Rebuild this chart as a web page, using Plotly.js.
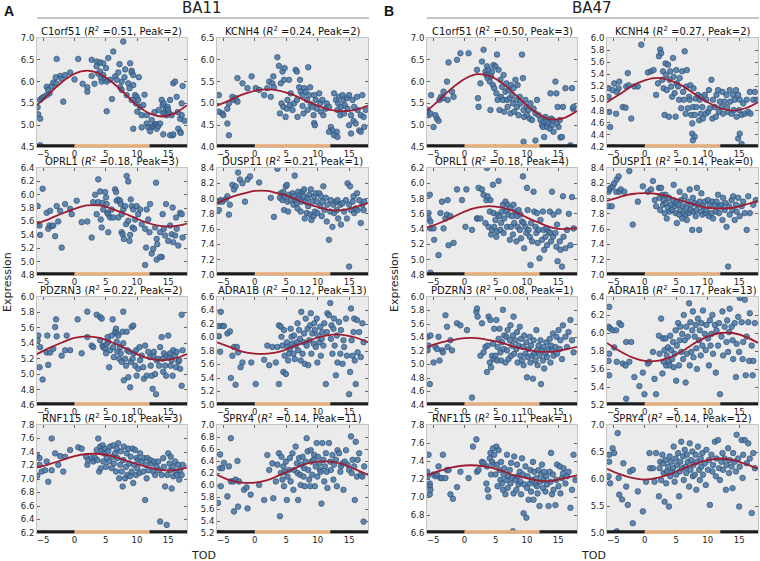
<!DOCTYPE html>
<html><head><meta charset="utf-8">
<script src="https://cdn.plot.ly/plotly-3.0.1.min.js"></script>
<style>html,body{margin:0;padding:0;background:#fff}#chart{width:760px;height:561px}</style>
</head><body><div id="chart"></div>
<script>
// ---------- labels ----------
const genes = ['C1orf51','KCNH4','OPRL1','DUSP11','PDZRN3','ADRA1B','RNF115','SPRY4'];
const r2A = ['0.51','0.24','0.18','0.21','0.22','0.12','0.18','0.14'];
const peakA = [2,2,3,1,2,13,3,11];
const r2B = ['0.50','0.27','0.18','0.14','0.08','0.17','0.11','0.14'];
const peakB = [3,2,4,0,1,13,1,12];
const regions = ['BA11','BA47'];
const panelLetters = ['A','B'];
const xTicks = [-5,0,5,10,15];
const xRange = [-6,18];
const phaseBreaks = [-6,0,12,18];   // dark / light / dark
const yRangeA = [[4.5,7.0],[4.0,6.5],[4.8,6.4],[7.0,8.4],[4.6,6.0],[5.0,6.6],[6.2,7.8],[5.2,7.0]];
const yStepA = [0.5,0.5,0.2,0.2,0.2,0.2,0.2,0.2];
const yRangeB = [[4.5,7.0],[4.2,6.0],[4.8,6.2],[7.0,8.4],[4.4,6.0],[5.2,6.4],[6.6,7.8],[5.0,7.0]];
const yStepB = [0.5,0.2,0.2,0.2,0.2,0.2,0.2,0.5];

// ---------- fitted curves (read at TOD = -6..18 step 2) ----------
const fitT = [-6,-4,-2,0,2,4,6,8,10,12,14,16,18];
const fitA1 = [5.46,5.73,5.99,6.18,6.25,6.18,5.99,5.73,5.46,5.27,5.20,5.27,5.46];
const fitA2 = [4.95,5.07,5.20,5.29,5.32,5.29,5.20,5.07,4.95,4.85,4.82,4.85,4.95];
const fitA3 = [5.57,5.64,5.72,5.79,5.84,5.84,5.79,5.72,5.64,5.57,5.53,5.53,5.57];
const fitA4 = [7.94,8.01,8.06,8.10,8.10,8.06,8.01,7.94,7.89,7.85,7.85,7.89,7.94];
const fitA5 = [5.26,5.34,5.41,5.47,5.49,5.47,5.41,5.34,5.26,5.20,5.18,5.20,5.26];
const fitA6 = [5.93,5.86,5.79,5.76,5.76,5.79,5.86,5.93,6.00,6.04,6.04,6.00,5.93];
const fitA7 = [7.17,7.22,7.28,7.34,7.37,7.37,7.34,7.28,7.22,7.17,7.13,7.13,7.17];
const fitA8 = [6.17,6.08,6.04,6.04,6.08,6.17,6.26,6.35,6.39,6.39,6.35,6.26,6.17];
const fitB1 = [5.33,5.58,5.85,6.06,6.17,6.13,5.97,5.72,5.45,5.24,5.13,5.17,5.33];
const fitB2 = [4.94,5.07,5.21,5.30,5.34,5.30,5.21,5.07,4.94,4.84,4.80,4.84,4.94];
const fitB3 = [5.42,5.48,5.55,5.63,5.68,5.70,5.68,5.63,5.55,5.48,5.42,5.40,5.42];
const fitB4 = [7.97,8.02,8.06,8.07,8.06,8.02,7.97,7.92,7.88,7.87,7.88,7.92,7.97];
const fitB5 = [5.26,5.32,5.36,5.39,5.39,5.36,5.32,5.26,5.22,5.19,5.19,5.22,5.26];
const fitB6 = [5.89,5.80,5.73,5.69,5.69,5.73,5.80,5.89,5.96,6.00,6.00,5.96,5.89];
const fitB7 = [7.24,7.29,7.33,7.35,7.35,7.33,7.29,7.24,7.21,7.18,7.18,7.21,7.24];
const fitB8 = [6.19,6.09,6.02,5.99,6.02,6.09,6.19,6.28,6.35,6.38,6.35,6.28,6.19];

// ---------- samples [TOD, expression] ----------
const ptsA1 = [[-5.9,5.41],[-5.8,5.25],[-5.5,5.58],[-5.25,5.62],[-4.9,5.65],[-4.45,5.69],[-4.0,5.73],[-5.5,5.15],[-4.45,5.88],[-4.2,5.81],[-3.65,5.9],[-3.4,5.98],[-2.85,6.52],[-2.95,5.96],[-2.3,6.13],[-2.05,6.06],[-1.8,5.54],[-1.5,6.15],[-0.7,6.21],[0.6,6.52],[1.3,5.95],[2.05,5.87],[2.05,5.77],[2.75,6.5],[2.75,6.13],[3.55,6.46],[3.55,6.35],[3.8,6.18],[4.1,6.44],[4.1,6.23],[4.25,6.08],[4.35,6.0],[4.6,6.42],[4.6,6.15],[4.9,6.04],[5.05,6.31],[5.15,6.0],[5.4,6.54],[5.15,5.32],[6.2,6.69],[5.7,6.04],[6.5,6.12],[6.75,6.04],[7.0,6.21],[7.3,5.87],[7.55,6.0],[7.8,6.92],[7.55,5.81],[8.1,6.28],[8.35,5.69],[8.6,5.96],[8.8,5.85],[8.9,6.42],[9.15,6.25],[9.15,6.21],[9.15,5.58],[9.4,6.15],[9.4,5.92],[9.7,5.69],[9.85,5.5],[9.95,5.65],[10.2,5.58],[10.05,5.31],[10.5,5.42],[10.75,5.23],[11.0,5.46],[9.4,4.92],[11.55,5.04],[10.75,4.95],[11.8,4.95],[12.35,4.96],[12.6,4.98],[12.9,5.02],[13.15,4.92],[13.15,5.02],[13.4,4.98],[13.7,5.04],[13.95,5.58],[14.1,5.46],[14.2,5.27],[14.3,5.5],[14.5,5.31],[14.65,5.38],[14.75,5.23],[14.9,5.42],[15.0,5.35],[15.2,5.27],[15.3,5.58],[15.55,5.23],[15.7,4.77],[15.8,5.96],[16.1,6.0],[16.35,5.65],[16.6,4.92],[16.9,5.15],[16.9,4.85],[17.15,5.23],[17.3,5.9],[17.15,5.5],[15.3,4.77],[11.55,5.23],[12.35,5.12],[-5.5,4.54],[12.1,4.86],[14.2,4.79],[15.8,4.79],[17.0,4.82],[-3.0,6.1],[0.0,6.05],[3.2,5.95],[6.0,5.6],[7.2,6.4],[8.0,6.1],[10.3,6.1],[11.2,5.7],[12.8,5.3],[13.5,5.35],[16.5,5.3],[17.6,5.1]];
const ptsA2 = [[-5.7,5.19],[-5.7,4.81],[-5.15,4.77],[-5.0,4.73],[-4.35,4.88],[-4.1,5.0],[-4.35,4.54],[-4.1,4.27],[-3.55,5.15],[-3.3,5.08],[-3.05,5.12],[-2.75,5.04],[-2.75,5.58],[-1.95,5.46],[-1.15,5.35],[-0.5,5.62],[0.15,5.35],[0.7,5.31],[1.5,5.19],[2.0,5.35],[2.3,5.5],[2.55,5.15],[2.8,5.46],[3.05,5.37],[2.95,5.62],[3.6,6.06],[3.85,5.86],[4.15,5.46],[4.0,4.77],[4.25,5.0],[4.4,5.73],[4.55,4.92],[4.65,5.54],[4.75,5.81],[4.9,4.69],[5.1,4.88],[5.2,5.08],[5.45,5.54],[5.6,4.96],[5.7,5.23],[6.0,4.85],[6.25,5.0],[6.5,5.77],[6.7,5.73],[6.7,5.08],[6.8,4.69],[7.05,5.37],[7.2,5.54],[7.3,5.27],[7.6,5.19],[7.6,4.94],[7.75,4.77],[7.85,5.35],[8.1,5.27],[8.3,5.08],[8.4,4.85],[8.5,5.83],[8.65,5.19],[8.8,5.37],[8.9,4.98],[9.15,4.92],[9.35,4.73],[9.45,5.19],[9.45,4.55],[9.55,4.5],[9.7,5.08],[9.85,4.88],[10.25,5.23],[10.4,5.0],[10.5,4.81],[10.75,5.08],[10.9,4.73],[11.3,4.88],[11.45,5.0],[11.8,4.92],[12.1,4.46],[12.35,4.38],[12.6,5.23],[12.9,5.08],[13.05,4.35],[13.15,4.85],[13.25,5.0],[13.4,5.15],[13.6,4.73],[13.7,4.92],[13.95,5.19],[14.1,5.08],[14.2,4.77],[14.3,4.96],[14.65,5.12],[14.75,4.88],[15.0,5.19],[15.0,4.5],[15.3,4.73],[15.55,5.08],[15.7,4.6],[15.8,4.92],[16.05,4.54],[16.25,5.15],[16.35,4.85],[16.6,4.38],[16.85,4.73],[17.1,5.19],[17.3,4.69],[17.4,4.46],[17.65,4.85],[12.6,4.27],[11.8,4.35],[13.15,4.23],[15.3,4.31],[16.85,4.35]];
const ptsA3 = [[-5.9,5.83],[-5.95,5.56],[-5.6,5.54],[-5.5,5.4],[-5.1,6.09],[-4.45,5.73],[-4.2,5.49],[-4.0,5.54],[-3.9,5.76],[-3.65,5.53],[-3.4,5.54],[-3.1,5.38],[-2.85,5.83],[-2.6,5.6],[-2.3,5.76],[-2.05,5.21],[-1.5,5.86],[-0.7,5.79],[-0.45,5.71],[0.35,5.91],[1.15,5.59],[2.05,5.6],[2.75,5.36],[3.0,5.89],[3.3,6.0],[3.55,5.71],[3.8,5.89],[3.8,6.23],[4.1,6.05],[4.2,5.63],[4.35,5.51],[4.5,5.88],[4.6,5.78],[4.9,6.04],[5.05,5.96],[5.15,5.86],[5.25,5.73],[5.4,5.71],[5.4,5.44],[5.7,5.66],[5.95,5.78],[6.2,5.66],[6.5,6.08],[6.65,6.04],[6.75,5.91],[7.0,5.93],[7.0,5.66],[7.3,5.91],[7.4,5.86],[7.55,5.71],[7.55,5.44],[7.7,5.41],[7.8,5.78],[7.9,5.34],[8.1,5.83],[8.25,5.56],[8.35,6.28],[8.6,6.2],[8.6,5.61],[8.8,5.31],[8.9,5.4],[9.0,5.93],[9.15,5.83],[9.3,5.51],[9.4,5.78],[9.55,5.49],[9.7,5.63],[9.95,5.83],[10.2,5.71],[10.5,5.78],[10.75,5.56],[11.3,5.49],[11.45,5.21],[11.55,5.78],[11.8,5.63],[12.0,5.44],[12.1,5.86],[12.35,5.12],[12.6,5.19],[12.9,5.51],[13.05,6.18],[13.15,5.34],[13.25,5.26],[13.7,5.44],[13.95,5.07],[14.1,5.71],[14.3,5.49],[14.5,5.39],[14.65,5.86],[15.0,5.31],[15.3,5.54],[15.55,5.41],[15.7,5.81],[15.8,5.29],[16.1,5.39],[16.25,5.66],[16.35,5.49],[16.6,5.24],[16.9,5.73],[17.15,5.71],[17.3,5.36],[11.3,4.95],[13.15,5.03],[13.7,5.07]];
const ptsA4 = [[-5.7,7.96],[-5.7,7.85],[-5.4,7.98],[-5.15,7.96],[-4.6,7.99],[-4.35,8.03],[-3.95,7.92],[-4.1,7.79],[-3.55,8.18],[-3.3,8.12],[-3.05,8.16],[-2.65,8.34],[-2.35,8.25],[-1.95,8.2],[-1.55,7.96],[-1.15,8.25],[-0.75,8.29],[0.7,8.21],[2.55,8.01],[3.05,7.76],[3.6,8.39],[4.0,8.01],[4.15,8.07],[4.4,7.98],[4.55,8.09],[4.65,7.85],[4.75,8.03],[4.95,8.16],[5.1,8.18],[5.2,7.96],[5.3,7.83],[5.45,8.05],[5.7,7.98],[6.0,8.07],[6.15,7.92],[6.25,8.03],[6.35,8.3],[6.5,7.98],[6.7,7.94],[6.8,7.87],[6.9,8.09],[7.05,8.01],[7.2,8.05],[7.3,7.83],[7.4,7.96],[7.6,8.09],[7.75,8.03],[7.85,8.12],[7.95,7.74],[8.1,7.96],[8.25,7.81],[8.4,8.01],[8.5,7.9],[8.65,8.05],[8.8,7.79],[8.9,8.12],[9.0,7.72],[9.15,7.96],[9.35,7.77],[9.45,8.03],[9.55,7.83],[9.7,8.07],[9.85,7.96],[9.95,7.81],[10.25,8.07],[10.4,7.9],[10.5,8.03],[10.65,7.77],[10.75,7.96],[10.9,8.16],[11.05,7.85],[11.3,8.01],[11.45,7.7],[11.55,7.92],[11.8,7.46],[12.0,7.83],[12.1,7.98],[12.35,7.63],[12.5,7.92],[12.6,7.81],[12.9,7.96],[13.05,7.85],[13.15,7.98],[13.25,7.74],[13.6,7.92],[13.7,7.66],[13.95,7.94],[14.2,7.83],[14.5,7.98],[14.65,7.74],[14.75,8.2],[15.0,7.92],[15.15,8.16],[15.3,7.85],[15.55,7.96],[15.7,8.03],[15.8,7.81],[16.05,7.87],[16.25,8.07],[16.35,7.85],[16.6,7.98],[16.85,7.68],[17.1,7.92],[17.3,7.85],[17.4,7.96],[15.0,7.11]];
const ptsA5 = [[-5.8,5.5],[-5.9,5.44],[-5.5,5.35],[-5.6,5.09],[-5.1,4.93],[-4.45,5.28],[-4.35,5.5],[-4.2,5.12],[-3.9,5.28],[-3.4,5.33],[-2.85,5.49],[-3.1,5.61],[-2.95,5.71],[-2.05,5.24],[-1.5,5.31],[-1.25,5.5],[-0.7,5.31],[0.5,5.71],[1.15,5.27],[2.05,5.81],[2.05,5.48],[2.75,5.37],[3.0,5.35],[3.55,5.77],[4.1,5.74],[4.1,5.44],[4.35,5.72],[4.5,5.37],[4.6,5.35],[4.9,5.33],[5.05,5.27],[5.15,5.39],[5.3,5.48],[5.4,5.42],[5.55,5.09],[5.7,5.31],[5.95,5.5],[6.1,5.71],[6.2,5.35],[6.3,5.22],[6.5,5.55],[6.65,5.59],[6.75,5.53],[6.75,5.42],[6.85,5.29],[7.0,5.5],[7.15,5.2],[7.3,5.35],[7.4,5.27],[7.55,5.16],[7.7,5.55],[7.8,5.81],[7.8,5.4],[7.9,4.92],[8.1,5.2],[8.25,5.11],[8.35,5.55],[8.45,5.31],[8.6,4.96],[8.75,5.29],[8.9,4.83],[9.0,5.16],[9.15,5.61],[9.3,5.2],[9.4,5.63],[9.5,5.27],[9.7,5.11],[9.85,5.31],[9.95,4.98],[10.2,5.07],[10.4,5.35],[10.5,5.18],[10.75,5.24],[11.0,5.09],[11.1,4.94],[11.3,5.37],[11.55,4.98],[11.8,5.29],[12.1,5.22],[12.2,5.11],[12.35,4.98],[12.5,4.81],[12.6,5.24],[12.7,5.29],[12.9,5.0],[13.05,4.74],[13.15,5.18],[13.4,5.2],[13.55,5.11],[13.7,5.35],[13.95,5.48],[14.1,5.2],[14.2,5.03],[14.3,5.27],[14.5,5.11],[14.65,4.98],[14.75,5.24],[15.0,5.5],[15.2,5.22],[15.3,5.27],[15.4,5.11],[15.55,5.18],[15.7,4.98],[15.8,5.31],[16.1,5.24],[16.25,5.09],[16.35,5.29],[16.6,5.16],[16.75,5.18],[16.9,5.07],[17.15,4.85],[17.15,5.77],[17.3,5.31]];
const ptsA6 = [[-5.4,6.38],[-5.7,6.17],[-5.15,6.17],[-4.9,6.17],[-5.7,6.02],[-5.5,5.79],[-4.35,6.06],[-3.95,6.09],[-3.55,5.73],[-3.3,5.86],[-2.85,5.86],[-2.65,5.78],[-3.8,5.4],[-3.05,5.3],[-2.25,5.56],[-1.95,5.63],[-0.55,5.63],[0.15,5.31],[1.5,5.67],[2.0,5.88],[2.3,5.59],[2.8,5.86],[3.35,5.63],[3.6,5.86],[3.85,5.31],[3.85,6.18],[4.15,6.16],[4.25,6.01],[4.4,5.88],[4.55,5.49],[4.65,6.11],[4.75,5.73],[4.95,5.46],[5.1,5.93],[5.2,5.86],[5.3,5.66],[5.45,5.76],[5.6,5.83],[5.7,6.13],[5.85,6.01],[6.0,5.91],[6.15,5.76],[6.25,6.03],[6.35,5.68],[6.5,5.88],[6.7,5.93],[6.8,6.21],[6.9,5.81],[7.05,6.11],[7.2,5.98],[7.3,5.66],[7.4,6.38],[7.6,5.76],[7.75,5.93],[7.85,6.06],[7.95,5.61],[8.1,6.28],[8.25,5.88],[8.4,6.13],[8.5,5.59],[8.65,5.96],[8.8,6.18],[8.9,6.36],[9.0,5.76],[9.15,6.06],[9.35,5.91],[9.45,6.21],[9.55,6.11],[9.7,5.86],[9.85,6.28],[9.95,5.63],[10.05,6.03],[10.25,5.93],[10.4,6.16],[10.5,5.73],[10.65,5.98],[10.75,6.08],[10.9,5.88],[11.05,6.21],[11.3,5.31],[11.45,6.08],[11.55,6.36],[11.8,6.33],[12.0,6.51],[12.1,5.98],[12.2,6.18],[12.35,5.76],[12.5,6.13],[12.6,6.28],[12.7,5.88],[12.9,5.44],[13.05,6.03],[13.15,5.63],[13.4,6.23],[13.6,5.76],[13.7,6.11],[13.95,5.61],[14.1,5.96],[14.2,5.86],[14.5,6.28],[14.65,5.73],[15.0,5.16],[15.15,5.49],[15.3,6.43],[15.4,5.96],[15.55,5.73],[15.7,6.08],[15.8,6.28],[15.9,5.66],[16.05,5.31],[16.25,6.26],[16.35,5.78],[16.6,6.08],[16.85,5.71],[17.1,6.21],[17.3,5.93]];
const ptsA7 = [[-5.95,7.34],[-5.95,7.05],[-5.6,7.31],[-5.6,7.21],[-5.25,7.11],[-4.7,7.13],[-4.45,7.26],[-4.2,6.96],[-3.65,7.6],[-3.65,7.13],[-3.1,7.38],[-2.6,7.21],[-2.3,7.34],[-1.8,7.11],[-1.5,7.33],[-0.7,7.43],[0.6,7.47],[1.15,7.45],[1.85,7.33],[2.05,7.21],[2.2,7.28],[2.75,7.31],[3.0,7.26],[3.3,7.31],[3.55,7.43],[3.65,7.28],[3.8,7.6],[3.95,7.11],[4.1,7.48],[4.2,7.16],[4.35,7.41],[4.5,7.5],[4.6,7.26],[4.7,7.38],[4.9,7.45],[5.05,7.18],[5.15,7.31],[5.4,7.41],[5.55,7.26],[5.7,7.48],[5.95,7.16],[6.1,7.33],[6.2,7.5],[6.3,7.23],[6.5,7.38],[6.65,7.11],[6.75,7.45],[6.85,7.31],[7.0,7.53],[7.15,7.01],[7.3,7.21],[7.4,7.41],[7.55,7.11],[7.7,6.89],[7.8,7.28],[7.9,7.48],[8.1,7.01],[8.25,7.18],[8.35,7.38],[8.45,7.06],[8.6,7.45],[8.75,7.23],[8.9,7.04],[9.0,7.33],[9.15,7.11],[9.3,7.45],[9.4,6.94],[9.5,7.21],[9.7,7.43],[9.85,7.06],[9.95,7.31],[10.05,7.16],[10.2,7.28],[10.4,7.09],[10.5,7.38],[10.75,7.26],[11.0,7.11],[11.1,7.31],[11.3,6.69],[11.45,7.21],[11.55,7.01],[11.65,7.31],[11.8,7.13],[12.1,7.28],[12.35,7.23],[12.6,7.11],[12.7,7.26],[12.9,7.06],[13.15,7.18],[13.4,7.26],[13.55,7.13],[13.7,6.37],[13.95,7.06],[14.2,7.31],[14.3,7.18],[14.5,6.89],[14.75,6.32],[14.85,7.06],[15.0,7.38],[15.2,7.23],[15.3,7.13],[15.4,7.33],[15.55,6.86],[15.7,7.18],[15.8,7.04],[16.1,7.26],[16.25,7.11],[16.35,7.06],[16.6,7.21],[16.75,6.99],[16.9,7.13],[17.15,7.06],[17.3,7.21]];
const ptsA8 = [[-5.7,5.2],[-5.85,5.7],[-5.5,6.51],[-5.5,6.28],[-5.15,6.28],[-5.4,5.98],[-4.9,6.37],[-4.35,5.81],[-4.1,6.31],[-3.8,6.78],[-3.8,6.06],[-3.4,6.06],[-3.3,5.56],[-3.05,6.09],[-2.75,6.4],[-2.65,5.64],[-2.5,6.06],[-1.7,5.92],[-1.3,5.96],[-1.15,5.61],[-0.65,5.84],[0.7,6.0],[1.5,5.75],[2.0,6.5],[2.3,6.25],[2.8,6.36],[2.95,5.78],[3.35,6.06],[3.6,6.34],[3.85,6.53],[4.0,5.48],[4.15,6.2],[4.25,6.47],[4.4,6.09],[4.55,6.31],[4.65,5.98],[4.75,6.22],[4.95,6.39],[5.1,5.75],[5.2,6.14],[5.45,6.25],[5.6,6.45],[5.7,6.06],[6.0,6.53],[6.15,5.92],[6.25,6.25],[6.5,6.64],[6.7,6.36],[6.8,6.2],[6.9,5.75],[7.05,6.45],[7.2,6.17],[7.3,6.0],[7.4,6.34],[7.6,6.47],[7.75,6.14],[7.85,6.28],[7.95,5.98],[8.1,6.39],[8.25,6.78],[8.4,6.56],[8.5,6.25],[8.65,6.09],[8.8,5.98],[8.9,6.58],[9.0,6.39],[9.15,6.17],[9.35,6.42],[9.45,6.5],[9.55,5.98],[9.7,6.31],[9.85,6.7],[9.95,6.14],[10.05,6.47],[10.25,6.36],[10.4,6.25],[10.5,6.22],[10.6,5.69],[10.75,6.7],[10.9,6.42],[11.05,6.06],[11.15,6.31],[11.3,6.53],[11.45,6.22],[11.55,5.95],[11.8,6.7],[12.0,6.39],[12.1,6.25],[12.35,6.5],[12.5,6.09],[12.6,6.34],[12.9,6.42],[13.05,5.98],[13.15,6.58],[13.4,6.53],[13.6,6.22],[13.7,6.31],[13.95,6.36],[14.1,5.92],[14.3,6.39],[14.5,6.58],[14.75,6.34],[15.0,6.25],[15.3,6.81],[15.4,6.2],[15.55,6.42],[15.8,6.31],[15.9,5.75],[16.05,6.72],[16.25,6.14],[16.35,6.42],[16.6,6.53],[16.85,6.17],[17.1,6.14],[17.3,5.39],[17.4,6.31]];
const ptsB1 = [[-5.9,5.35],[-5.75,5.23],[-5.45,5.27],[-5.35,5.69],[-4.95,4.96],[-4.65,5.23],[-4.4,5.15],[-4.15,5.1],[-4.0,5.58],[-3.75,5.65],[-3.45,5.62],[-3.35,5.77],[-2.8,6.0],[-2.7,5.58],[-2.55,6.44],[-2.0,5.77],[-1.75,5.65],[-1.2,6.5],[-0.65,6.65],[0.65,6.65],[2.0,6.27],[2.15,5.62],[2.25,5.42],[2.55,5.96],[2.8,6.46],[3.05,6.73],[3.35,6.23],[3.5,6.15],[3.6,6.35],[3.7,6.08],[3.85,6.27],[4.05,6.0],[4.15,5.35],[4.25,6.12],[4.4,6.23],[4.55,5.92],[4.65,6.38],[4.75,5.85],[4.95,6.35],[5.1,5.73],[5.2,6.62],[5.3,5.58],[5.45,6.27],[5.6,5.35],[5.75,6.04],[5.85,5.65],[6.0,5.88],[6.15,5.58],[6.25,6.15],[6.35,5.31],[6.55,5.77],[6.7,5.96],[6.8,5.58],[6.9,5.42],[7.05,5.81],[7.25,5.62],[7.35,5.27],[7.45,5.92],[7.6,5.69],[7.75,5.5],[7.85,5.85],[7.95,5.31],[8.15,6.04],[8.3,5.58],[8.4,5.42],[8.5,5.92],[8.65,5.23],[8.85,5.65],[8.95,5.5],[9.2,6.62],[9.35,6.08],[9.45,5.35],[9.55,5.19],[9.75,5.58],[9.9,5.42],[10.0,5.23],[10.25,5.35],[10.45,5.15],[10.55,5.5],[10.8,5.12],[11.05,5.38],[11.35,5.27],[11.6,5.58],[11.85,5.23],[12.15,5.12],[12.4,5.0],[12.55,4.96],[12.65,5.08],[12.75,4.73],[12.95,5.19],[13.1,5.08],[13.2,4.96],[13.45,5.04],[13.65,4.92],[13.75,5.73],[13.85,5.15],[14.0,5.0],[14.15,5.12],[14.25,4.85],[14.55,6.0],[14.7,5.73],[14.8,5.04],[14.9,5.42],[15.05,4.96],[15.25,5.12],[15.35,4.72],[15.6,4.73],[15.75,5.42],[16.15,5.85],[17.2,5.85],[17.35,5.38],[17.45,5.42],[9.45,4.62],[11.35,4.65],[16.95,4.54]];
const ptsB2 = [[-5.75,5.17],[-5.75,5.03],[-5.65,4.78],[-5.5,4.53],[-5.1,5.14],[-4.85,5.25],[-4.55,4.75],[-4.45,5.11],[-4.15,5.17],[-4.05,5.28],[-3.5,4.86],[-3.05,4.85],[-2.95,5.2],[-2.7,5.42],[-2.55,5.22],[-2.15,4.67],[-1.65,5.2],[-1.1,5.2],[-0.55,5.89],[0.5,5.43],[1.0,5.45],[1.4,5.47],[1.8,5.06],[2.1,5.25],[2.25,5.7],[2.45,5.81],[2.6,5.75],[2.8,5.31],[2.9,5.45],[3.0,5.17],[3.15,4.73],[3.3,5.58],[3.4,5.39],[3.5,5.14],[3.7,5.56],[3.85,4.7],[3.95,5.31],[4.05,5.45],[4.2,5.2],[4.35,5.03],[4.5,5.67],[4.6,5.36],[4.75,5.09],[4.9,4.7],[5.0,5.47],[5.1,5.25],[5.3,5.2],[5.45,4.98],[5.55,5.34],[5.8,4.84],[5.95,5.45],[6.1,5.11],[6.2,4.98],[6.35,5.78],[6.5,4.75],[6.6,5.2],[6.7,5.47],[6.85,4.84],[7.05,5.03],[7.15,4.98],[7.25,5.22],[7.4,4.73],[7.55,4.59],[7.65,4.86],[7.75,5.17],[7.95,4.73],[8.1,5.0],[8.2,4.86],[8.45,5.06],[8.65,4.64],[8.75,4.98],[8.9,4.75],[9.0,5.03],[9.15,4.86],[9.25,4.67],[9.55,5.06],[9.7,4.75],[9.8,4.98],[10.05,4.78],[10.2,5.14],[10.35,4.84],[10.6,5.31],[10.75,4.67],[10.85,4.98],[11.15,4.86],[11.3,4.7],[11.4,5.06],[11.65,5.14],[11.8,4.78],[11.95,4.95],[12.2,4.86],[12.35,5.11],[12.45,4.75],[12.7,4.95],[13.0,5.06],[13.1,4.86],[13.25,4.78],[13.5,5.14],[13.6,4.95],[13.8,4.75],[14.05,5.06],[14.15,4.81],[14.3,4.98],[14.5,5.14],[14.6,4.7],[14.85,5.06],[15.0,4.81],[15.1,4.98],[15.4,4.73],[15.65,4.92],[15.9,4.75],[16.2,4.98],[16.45,4.78],[16.7,5.11],[16.8,4.75],[17.25,4.98],[17.5,5.11],[17.8,4.98],[7.55,4.42],[7.95,4.37],[14.85,4.34],[15.1,4.42],[7.65,4.31],[15.4,4.25]];
const ptsB3 = [[-5.75,5.61],[-5.75,5.54],[-5.55,5.85],[-5.45,5.5],[-5.45,5.41],[-4.95,5.41],[-4.85,5.26],[-4.15,5.06],[-3.85,5.61],[-3.6,5.76],[-3.35,5.41],[-3.05,5.54],[-2.8,5.59],[-2.7,5.78],[-2.55,5.19],[-2.25,5.57],[-1.75,5.22],[-1.2,5.92],[-0.4,5.78],[0.15,5.43],[0.3,5.92],[1.2,5.39],[2.0,5.54],[2.1,5.54],[2.25,5.94],[2.55,5.54],[2.8,5.92],[3.05,5.85],[3.35,5.48],[3.5,5.78],[3.6,6.2],[3.7,5.83],[3.85,5.43],[4.05,5.63],[4.15,5.78],[4.25,5.33],[4.4,5.39],[4.55,5.98],[4.65,5.61],[4.75,5.43],[4.95,5.52],[5.1,5.3],[5.2,5.37],[5.3,5.59],[5.45,6.03],[5.6,5.57],[5.75,5.39],[5.85,5.48],[6.0,5.63],[6.15,5.72],[6.25,5.35],[6.35,5.54],[6.55,5.76],[6.7,5.63],[6.8,5.43],[6.9,5.72],[7.05,5.59],[7.25,5.26],[7.35,5.68],[7.45,5.43],[7.6,5.57],[7.75,5.33],[7.85,5.72],[7.95,5.48],[8.15,5.63],[8.3,5.24],[8.4,5.57],[8.5,5.43],[8.65,5.65],[8.85,5.39],[8.95,5.59],[9.05,5.28],[9.2,5.5],[9.35,6.09],[9.45,5.48],[9.55,5.15],[9.75,5.43],[9.9,5.35],[10.0,5.94],[10.1,5.65],[10.25,5.39],[10.45,5.3],[10.55,4.93],[10.65,5.48],[10.8,5.24],[11.05,5.89],[11.15,5.63],[11.35,5.43],[11.5,5.35],[11.6,5.61],[11.7,5.22],[11.85,5.39],[12.0,5.02],[12.15,5.52],[12.4,5.26],[12.55,5.63],[12.65,5.39],[12.75,5.13],[12.95,5.3],[13.1,5.41],[13.2,5.19],[13.45,5.37],[13.65,5.63],[13.75,5.35],[13.85,5.24],[14.0,5.89],[14.15,5.3],[14.25,5.59],[14.55,5.35],[14.7,5.17],[14.8,5.46],[14.9,4.98],[15.05,5.63],[15.25,5.24],[15.35,5.13],[15.6,4.91],[15.75,5.83],[15.85,5.3],[16.15,5.15],[16.4,5.39],[16.95,5.19],[17.45,5.41],[-5.45,4.83],[17.2,5.82],[16.7,5.6]];
const ptsB4 = [[-5.75,8.09],[-5.75,7.9],[-5.65,8.12],[-5.4,8.14],[-5.25,7.9],[-5.1,8.16],[-4.85,8.2],[-4.55,8.09],[-4.45,8.25],[-4.15,8.29],[-4.05,8.09],[-3.8,8.12],[-3.25,8.09],[-2.45,8.36],[-1.9,7.66],[-1.1,7.96],[-0.3,8.16],[0.5,8.09],[1.0,8.12],[1.3,8.23],[1.6,7.98],[1.8,7.9],[2.25,8.14],[2.35,8.01],[2.45,7.85],[2.6,8.14],[2.8,8.05],[2.9,7.92],[3.0,7.98],[3.15,7.81],[3.3,8.05],[3.4,7.94],[3.5,7.74],[3.7,7.88],[3.85,8.01],[3.95,7.83],[4.2,7.92],[4.35,7.85],[4.5,7.98],[4.6,8.18],[4.75,7.9],[4.9,7.81],[5.0,7.94],[5.1,7.68],[5.3,7.92],[5.45,7.79],[5.55,8.09],[5.65,7.85],[5.8,7.98],[5.95,7.74],[6.1,7.9],[6.2,7.81],[6.35,8.03],[6.5,7.79],[6.6,7.88],[6.7,7.72],[6.85,7.96],[7.05,7.81],[7.15,8.12],[7.25,7.85],[7.4,7.92],[7.55,7.59],[7.65,8.01],[7.75,7.83],[7.95,7.94],[8.1,7.77],[8.2,7.85],[8.3,8.14],[8.45,7.92],[8.65,7.59],[8.75,7.96],[8.9,7.83],[9.0,8.07],[9.15,7.79],[9.25,7.9],[9.55,7.96],[9.7,7.81],[9.8,7.85],[10.05,7.98],[10.2,7.77],[10.35,7.92],[10.6,7.81],[10.75,7.96],[10.85,7.74],[11.15,7.92],[11.3,7.83],[11.4,7.96],[11.65,8.05],[11.8,7.81],[11.95,7.9],[12.2,7.92],[12.35,7.72],[12.45,8.01],[12.7,7.85],[12.85,7.94],[13.0,7.63],[13.25,7.11],[13.4,7.9],[13.5,7.79],[13.8,7.98],[13.95,7.85],[14.05,8.03],[14.3,7.72],[14.5,7.92],[14.6,7.83],[14.85,8.01],[15.1,7.77],[15.4,7.9],[15.65,7.96],[15.9,7.81],[16.2,7.59],[16.45,8.03],[16.7,7.81],[17.25,7.92],[17.65,7.98]];
const ptsB5 = [[-5.9,5.41],[-5.9,5.21],[-5.75,5.28],[-5.45,5.43],[-5.55,4.71],[-4.95,5.03],[-4.65,5.26],[-4.4,5.23],[-4.15,5.41],[-4.0,5.06],[-3.6,5.21],[-3.45,5.18],[-3.05,5.73],[-2.8,5.56],[-2.7,5.26],[-2.25,5.36],[-2.0,5.21],[-1.2,5.61],[-0.65,5.58],[0.4,5.51],[1.2,4.51],[1.9,5.78],[2.0,5.83],[2.1,5.71],[2.55,5.13],[2.8,5.61],[3.05,5.18],[3.35,5.26],[3.6,4.89],[3.7,5.28],[3.85,5.71],[4.05,5.03],[4.15,5.66],[4.25,4.96],[4.4,5.13],[4.55,5.31],[4.65,5.08],[4.75,5.53],[4.95,5.13],[5.1,5.66],[5.2,5.06],[5.3,5.26],[5.45,5.38],[5.6,5.53],[5.75,5.18],[5.85,5.06],[6.0,5.33],[6.15,5.81],[6.25,5.23],[6.35,5.43],[6.55,5.03],[6.7,5.41],[6.8,5.21],[6.9,5.51],[7.05,5.08],[7.25,5.36],[7.35,5.58],[7.45,5.13],[7.6,5.28],[7.75,5.43],[7.85,5.71],[7.95,5.16],[8.15,5.36],[8.3,5.23],[8.4,5.48],[8.5,5.03],[8.65,5.28],[8.85,5.56],[8.95,5.13],[9.05,5.38],[9.2,5.06],[9.35,5.26],[9.45,4.99],[9.55,5.43],[9.75,5.16],[9.9,5.33],[10.0,4.81],[10.1,5.11],[10.25,5.23],[10.45,5.41],[10.55,5.03],[10.65,5.28],[10.8,5.13],[10.95,4.79],[11.05,5.36],[11.15,5.16],[11.35,5.06],[11.5,5.51],[11.6,5.21],[11.7,4.99],[11.85,5.28],[12.0,5.13],[12.15,5.36],[12.25,4.71],[12.4,5.21],[12.55,5.06],[12.65,5.26],[12.75,4.94],[12.95,5.16],[13.1,5.33],[13.2,5.11],[13.45,5.23],[13.65,5.38],[13.75,5.03],[13.85,5.28],[14.0,5.21],[14.15,5.46],[14.25,5.13],[14.55,5.26],[14.7,5.41],[14.8,5.16],[15.05,5.51],[15.25,5.23],[15.35,5.36],[15.6,5.08],[15.75,5.58],[16.15,5.41],[16.4,5.26],[16.65,5.48],[16.95,5.66],[17.2,5.36],[17.45,5.18]];
const ptsB6 = [[-5.75,6.07],[-5.65,6.29],[-5.5,6.05],[-5.65,5.77],[-5.75,5.69],[-5.65,5.53],[-5.1,6.03],[-4.55,6.03],[-4.85,5.84],[-4.45,5.68],[-4.05,6.11],[-3.75,6.09],[-3.5,5.66],[-3.05,5.64],[-2.95,5.9],[-2.45,5.68],[-2.15,5.9],[-2.95,5.27],[-1.65,5.51],[-0.85,5.41],[-0.3,5.56],[-0.05,5.32],[0.5,5.66],[0.75,5.68],[1.3,5.79],[1.55,5.49],[1.8,5.32],[2.25,5.97],[2.35,5.77],[2.6,6.16],[2.8,5.55],[2.9,5.94],[3.0,5.68],[3.15,5.81],[3.3,5.94],[3.4,5.64],[3.5,5.75],[3.7,5.84],[3.85,5.68],[3.95,5.64],[4.05,5.97],[4.2,5.81],[4.35,5.71],[4.5,5.9],[4.6,5.62],[4.75,5.77],[4.9,6.03],[5.0,5.47],[5.1,5.86],[5.3,6.11],[5.45,5.64],[5.55,5.92],[5.65,6.07],[5.8,5.79],[5.95,5.99],[6.1,5.71],[6.2,6.2],[6.35,5.92],[6.5,5.45],[6.6,6.07],[6.7,5.77],[6.85,5.96],[7.05,6.33],[7.15,5.64],[7.25,6.12],[7.4,5.79],[7.55,6.03],[7.65,6.24],[7.75,5.73],[7.95,5.96],[8.1,6.09],[8.2,5.83],[8.3,5.6],[8.45,6.16],[8.65,5.92],[8.75,6.03],[8.9,5.75],[9.0,6.11],[9.15,5.86],[9.25,6.25],[9.55,5.99],[9.7,5.81],[9.8,6.09],[10.05,5.94],[10.2,5.64],[10.35,6.14],[10.45,5.86],[10.6,5.99],[10.75,6.2],[10.85,5.77],[11.15,6.09],[11.3,5.56],[11.4,6.03],[11.65,5.86],[11.8,6.11],[11.95,5.32],[12.2,5.96],[12.35,6.24],[12.45,5.75],[12.7,6.07],[13.0,5.9],[13.1,6.14],[13.25,5.79],[13.4,6.01],[13.5,6.27],[13.8,6.07],[13.95,5.92],[14.05,5.71],[14.3,6.11],[14.5,5.51],[14.6,5.88],[14.85,6.18],[15.0,5.79],[15.1,6.39],[15.4,6.12],[15.55,5.71],[15.65,5.9],[15.9,6.37],[16.05,5.53],[16.2,5.96],[16.45,6.12],[16.6,5.69],[16.7,6.22],[17.0,5.86],[17.15,5.53],[17.25,5.69],[17.5,6.11]];
const ptsB7 = [[-5.97,7.28],[-5.9,7.23],[-5.75,7.47],[-5.55,7.15],[-5.55,7.12],[-5.55,7.03],[-5.45,7.08],[-4.95,7.25],[-4.65,7.23],[-4.4,7.25],[-4.15,7.34],[-3.85,7.21],[-3.6,7.21],[-3.45,7.47],[-3.05,7.21],[-2.8,7.3],[-2.55,7.3],[-2.25,7.03],[-1.85,6.98],[-1.2,7.11],[-0.65,7.28],[0.65,7.21],[1.35,7.56],[1.9,7.64],[2.0,7.28],[2.25,7.3],[2.8,7.39],[3.05,7.38],[3.5,7.15],[3.6,7.34],[3.7,7.08],[3.85,7.0],[4.05,7.43],[4.15,7.49],[4.25,7.25],[4.4,7.39],[4.55,7.54],[4.65,7.36],[4.75,7.47],[4.95,7.25],[5.1,7.56],[5.2,7.36],[5.3,7.12],[5.45,7.52],[5.6,7.3],[5.75,7.19],[5.85,7.39],[6.0,7.15],[6.15,7.08],[6.25,7.25],[6.35,7.32],[6.55,7.03],[6.7,7.19],[6.8,7.47],[6.9,7.1],[7.05,7.23],[7.25,7.3],[7.35,7.15],[7.45,7.38],[7.6,7.21],[7.75,6.62],[7.85,7.04],[7.95,7.45],[8.15,7.19],[8.3,7.08],[8.4,7.36],[8.5,7.23],[8.65,7.14],[8.85,7.28],[8.95,7.17],[9.05,7.03],[9.2,7.43],[9.35,7.25],[9.45,6.82],[9.55,7.14],[9.75,7.34],[9.9,6.77],[10.0,7.1],[10.1,7.23],[10.25,6.97],[10.45,7.15],[10.55,7.3],[10.65,7.06],[10.8,7.19],[10.95,7.39],[11.05,6.97],[11.15,7.28],[11.35,7.14],[11.5,7.21],[11.6,7.12],[11.7,7.04],[11.85,7.3],[12.0,6.9],[12.15,7.17],[12.25,7.25],[12.4,7.36],[12.55,7.1],[12.65,7.19],[12.75,7.28],[12.95,7.06],[13.1,7.23],[13.2,7.14],[13.45,6.9],[13.65,7.28],[13.75,7.17],[13.85,7.49],[14.0,7.03],[14.15,7.25],[14.25,7.08],[14.55,6.91],[14.7,7.19],[14.8,7.36],[15.05,7.12],[15.25,7.34],[15.35,7.04],[15.6,7.21],[15.75,7.26],[15.85,7.32],[16.15,7.15],[16.4,7.23],[16.65,7.28],[16.95,6.88],[17.2,7.08],[17.45,7.47],[17.75,7.19]];
const ptsB8 = [[-5.75,6.05],[-5.65,6.45],[-5.65,6.32],[-5.5,5.92],[-5.1,6.57],[-4.85,6.48],[-4.45,5.03],[-4.3,6.85],[-4.15,6.02],[-4.05,5.71],[-3.6,5.62],[-3.4,6.29],[-2.95,5.86],[-2.7,5.52],[-2.35,6.14],[-1.9,6.17],[-1.9,5.18],[-1.1,5.77],[-0.3,5.4],[0.2,5.95],[0.75,6.48],[0.85,6.2],[1.3,6.2],[1.55,5.95],[1.8,6.48],[2.25,5.68],[2.35,6.2],[2.45,6.32],[2.6,5.98],[2.8,6.45],[2.9,6.29],[3.0,6.11],[3.15,5.58],[3.3,6.35],[3.4,5.92],[3.5,6.14],[3.7,6.23],[3.85,5.49],[3.95,6.42],[4.05,6.05],[4.2,6.32],[4.35,6.14],[4.5,6.2],[4.6,6.6],[4.75,5.95],[4.9,6.38],[5.0,6.08],[5.1,6.26],[5.3,6.48],[5.45,5.68],[5.55,6.14],[5.65,6.32],[5.8,6.69],[5.95,6.2],[6.1,6.42],[6.2,5.98],[6.35,6.54],[6.5,6.23],[6.6,6.11],[6.7,6.45],[6.85,6.32],[7.05,5.86],[7.15,6.66],[7.25,6.17],[7.4,6.35],[7.55,6.51],[7.65,6.05],[7.75,6.26],[7.95,6.08],[8.1,6.45],[8.2,5.8],[8.3,6.32],[8.45,6.6],[8.65,6.17],[8.75,5.98],[8.9,6.38],[9.0,6.23],[9.15,6.48],[9.25,6.08],[9.55,6.29],[9.7,5.89],[9.8,6.54],[10.05,6.17],[10.2,6.35],[10.35,5.52],[10.6,6.45],[10.75,6.14],[10.85,6.26],[11.15,6.69],[11.3,6.05],[11.4,6.38],[11.65,6.72],[11.8,6.2],[11.95,5.98],[12.2,6.32],[12.35,6.48],[12.45,6.17],[12.7,6.38],[12.9,5.8],[13.0,6.26],[13.25,6.57],[13.4,6.11],[13.5,6.35],[13.8,6.23],[13.95,5.83],[14.05,6.48],[14.3,6.32],[14.5,6.14],[14.6,6.82],[14.85,6.38],[15.0,5.49],[15.1,6.23],[15.4,6.72],[15.55,6.02],[15.65,6.45],[15.9,6.72],[16.2,6.29],[16.45,6.66],[16.7,6.38],[17.0,5.37],[17.25,6.48],[17.5,6.2]];

// ---------- assemble ----------
const ptsA = [ptsA1,ptsA2,ptsA3,ptsA4,ptsA5,ptsA6,ptsA7,ptsA8];
const ptsB = [ptsB1,ptsB2,ptsB3,ptsB4,ptsB5,ptsB6,ptsB7,ptsB8];
const fitsA = [fitA1,fitA2,fitA3,fitA4,fitA5,fitA6,fitA7,fitA8];
const fitsB = [fitB1,fitB2,fitB3,fitB4,fitB5,fitB6,fitB7,fitB8];

const W = 760, H = 561;
const colPx = [[37,187],[217,368],[427,577],[607,758]];
const rowPx = [[38,147],[168,275],[297,405],[425,533]];
const px2x = p => p / W;
const px2y = p => 1 - p / H;

const FONT = 'DejaVu Sans, Verdana, sans-serif';
const traces = [];
const layout = {
  width: W, height: H,
  margin: {l:0, r:0, t:0, b:0},
  paper_bgcolor: '#ffffff',
  plot_bgcolor: '#ebebeb',
  showlegend: false,
  font: {family: FONT, size: 9, color: '#222'},
  annotations: [],
  shapes: []
};

function ticksFor(range, step) {
  const out = [];
  const n = Math.round((range[1] - range[0]) / step);
  for (let k = 0; k <= n; k++) out.push(+(range[0] + k * step).toFixed(2));
  return out;
}

let idx = 0;
for (let p = 0; p < 2; p++) {
  const pts = p === 0 ? ptsA : ptsB;
  const fits = p === 0 ? fitsA : fitsB;
  const r2 = p === 0 ? r2A : r2B;
  const peak = p === 0 ? peakA : peakB;
  const yR = p === 0 ? yRangeA : yRangeB;
  const yS = p === 0 ? yStepA : yStepB;
  for (let g = 0; g < 8; g++) {
    idx++;
    const row = Math.floor(g / 2), col = g % 2;
    const cx = colPx[p * 2 + col], ry = rowPx[row];
    const xa = idx === 1 ? 'x' : 'x' + idx;
    const ya = idx === 1 ? 'y' : 'y' + idx;
    const xk = idx === 1 ? 'xaxis' : 'xaxis' + idx;
    const yk = idx === 1 ? 'yaxis' : 'yaxis' + idx;
    layout[xk] = {
      domain: [px2x(cx[0]), px2x(cx[1])], anchor: ya, range: xRange,
      tickvals: xTicks, ticks: 'inside', ticklen: 3, tickcolor: '#666',
      ticklabelstandoff: -1,
      showline: true, linecolor: '#c4c4c4', linewidth: 1, mirror: 'ticks',
      showgrid: false, zeroline: false, tickfont: {size: 8.5, color: '#222'},
      fixedrange: true
    };
    layout[yk] = {
      domain: [px2y(ry[1]), px2y(ry[0])], anchor: xa, range: yR[g],
      tickvals: ticksFor(yR[g], yS[g]), tickformat: '.1f',
      ticks: 'inside', ticklen: 3, tickcolor: '#666',
      showline: true, linecolor: '#c4c4c4', linewidth: 1, mirror: 'ticks',
      showgrid: false, zeroline: false, tickfont: {size: 8.5, color: '#222'},
      fixedrange: true
    };
    traces.push({
      type: 'scatter', mode: 'markers', xaxis: xa, yaxis: ya,
      x: pts[g].map(d => d[0]), y: pts[g].map(d => d[1]),
      marker: {size: 5.6, color: 'rgba(74,121,168,0.88)', line: {color: '#2a4767', width: 0.6}},
      hoverinfo: 'skip'
    });
    traces.push({
      type: 'scatter', mode: 'lines', xaxis: xa, yaxis: ya,
      x: fitT, y: fits[g],
      line: {color: '#9e1b32', width: 1.8, shape: 'spline', smoothing: 1},
      hoverinfo: 'skip'
    });
    // light/dark bar along the bottom
    const barColors = ['#1c1c1c', '#e9ad78', '#1c1c1c'];
    for (let s = 0; s < 3; s++) {
      layout.shapes.push({
        type: 'line', xref: xa, yref: ya + ' domain',
        x0: phaseBreaks[s], x1: phaseBreaks[s + 1], y0: 0.012, y1: 0.012,
        line: {color: barColors[s], width: 3}, layer: 'above'
      });
    }
    // subplot title
    layout.annotations.push({
      xref: 'paper', yref: 'paper',
      x: px2x((cx[0] + cx[1]) / 2), y: px2y(ry[0] - 7),
      xanchor: 'center', yanchor: 'middle', showarrow: false, borderpad: 0,
      text: genes[g] + ' (<i>R</i><sup>2</sup> =' + r2[g] + ', Peak=' + peak[g] + ')',
      font: {size: 10, color: '#111', family: FONT}
    });
  }
  // region header + rule
  const left = colPx[p * 2][0], right = colPx[p * 2 + 1][1];
  const mid = p === 0 ? 202 : 592;
  layout.annotations.push({
    xref: 'paper', yref: 'paper', x: px2x(mid), y: px2y(8.5),
    xanchor: 'center', yanchor: 'middle', showarrow: false,
    text: regions[p], font: {size: 15, color: '#222', family: FONT}
  });
  layout.shapes.push({
    type: 'line', xref: 'paper', yref: 'paper',
    x0: px2x(left), x1: px2x(right + 1), y0: px2y(18), y1: px2y(18),
    line: {color: '#8a8a8a', width: 1}
  });
  layout.annotations.push({
    xref: 'paper', yref: 'paper', x: px2x(p === 0 ? 9 : 389), y: px2y(11),
    xanchor: 'center', yanchor: 'middle', showarrow: false,
    text: '<b>' + panelLetters[p] + '</b>',
    font: {size: 14, color: '#111', family: 'Liberation Sans, Arial, sans-serif'}
  });
  layout.annotations.push({
    xref: 'paper', yref: 'paper', x: px2x(p === 0 ? 7 : 394), y: px2y(282),
    xanchor: 'center', yanchor: 'middle', showarrow: false, textangle: -90,
    text: 'Expression', font: {size: 11, color: '#222', family: FONT}
  });
  layout.annotations.push({
    xref: 'paper', yref: 'paper', x: px2x(p === 0 ? 203 : 593), y: px2y(555),
    xanchor: 'center', yanchor: 'middle', showarrow: false,
    text: 'TOD', font: {size: 11, color: '#222', family: FONT}
  });
}

Plotly.newPlot('chart', traces, layout, {staticPlot: true, displayModeBar: false});
</script>
</body></html>
